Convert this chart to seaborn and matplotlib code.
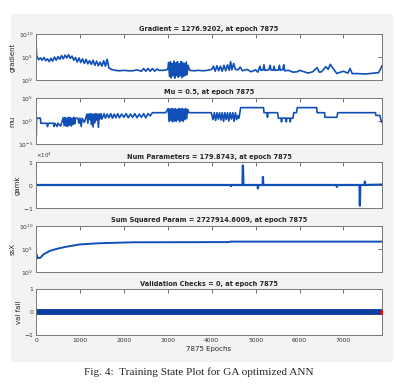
import numpy as np
import matplotlib
matplotlib.use("Agg")
import matplotlib.pyplot as plt
import seaborn as sns
from matplotlib.patches import Rectangle

# valores (exponentes log10 para los paneles logaritmicos)
grad_epochs = [0, 15, 60, 100, 140, 180, 220, 260, 300, 340, 380, 420, 460, 500, 540, 580, 620, 660, 700, 740,
               780, 820, 860, 900, 940, 980, 1020, 1060, 1100, 1140, 1180, 1220, 1260, 1300, 1340, 1380, 1420,
               1460, 1500, 1540, 1580, 1620, 1660, 1720, 1800, 1900, 2000, 2100, 2200, 2300, 2400, 2450, 2500,
               2550, 2600, 2650, 2700, 2750, 2800, 2900, 3000, 3020, 3040, 3060, 3080, 3100, 3120, 3140, 3160,
               3180, 3200, 3220, 3240, 3260, 3280, 3300, 3320, 3340, 3360, 3380, 3400, 3420, 3440, 3460, 3500,
               3600, 3700, 3800, 3900, 4000, 4040, 4080, 4120, 4160, 4200, 4240, 4280, 4320, 4360, 4400, 4430,
               4460, 4500, 4540, 4600, 4650, 4700, 4800, 4900, 5000, 5050, 5100, 5120, 5170, 5190, 5210, 5300,
               5330, 5350, 5400, 5420, 5440, 5520, 5540, 5560, 5620, 5640, 5660, 5750, 5850, 5950, 6000, 6100,
               6200, 6300, 6400, 6450, 6500, 6600, 6650, 6700, 6750, 6850, 6900, 7000, 7100, 7150, 7200, 7300,
               7500, 7600, 7700, 7800, 7850, 7875]
grad_log = [8.0, 5.2, 4.4, 4.8, 4.3, 4.9, 4.2, 4.6, 4.0, 4.7, 4.1, 5.0, 4.3, 5.1, 4.5, 5.3, 4.6, 5.4, 4.8, 5.5,
            4.7, 5.2, 4.3, 4.9, 3.9, 4.8, 3.8, 4.6, 3.6, 4.5, 3.5, 4.2, 3.4, 4.3, 3.2, 4.1, 3.1,
            3.9, 3.0, 4.2, 3.0, 4.5, 2.6, 2.3, 2.1, 2.0, 2.1, 2.0, 2.0, 2.2, 1.9, 2.5, 1.9,
            2.5, 1.9, 2.5, 1.9, 2.4, 2.1, 2.1, 2.3, 3.8, 0.8, 4.0, 0.5, 3.6, 0.9, 4.1, 0.4,
            3.7, 1.0, 4.0, 0.6, 3.5, 0.9, 4.0, 0.5, 3.8, 0.8, 3.6, 1.0, 3.9, 1.2, 3.2, 2.1,
            2.0, 2.1, 2.0, 2.1, 2.3, 3.0, 1.9, 3.1, 2.0, 3.0, 1.9, 3.2, 2.0, 3.3, 2.1, 4.0,
            2.2, 3.6, 2.3, 2.2, 2.8, 2.0, 2.3, 1.8, 2.2, 1.7, 3.0, 2.1, 2.2, 3.3, 2.1, 2.2,
            3.2, 2.2, 2.1, 3.0, 2.1, 2.2, 3.2, 2.1, 2.3, 3.3, 2.0, 2.1, 1.7, 1.8, 2.1, 1.8,
            1.5, 1.8, 2.7, 1.7, 1.8, 2.9, 2.3, 3.4, 2.7, 1.4, 1.6, 1.9, 1.5, 2.5, 1.4, 1.4,
            1.3, 1.4, 1.5, 1.6, 2.5, 3.1]

mu_epochs = [0, 5, 12, 100, 110, 250, 260, 280, 400, 410, 430, 480, 500, 560, 580,
             620, 640, 660, 680, 700, 720, 740, 760, 780, 800, 820, 840, 860, 880, 900,
             950, 980, 1000, 1030, 1050, 1100, 1130,
             1160, 1180, 1200, 1220, 1240, 1260, 1280, 1300, 1320, 1340, 1360, 1380, 1400, 1420, 1440, 1460, 1480, 1500,
             1550, 1580, 1620, 1660, 1700, 1740, 1780, 1820, 1860, 1900, 1950, 2000, 2050, 2100, 2150, 2200, 2250,
             2300, 2350, 2400, 2450, 2500, 2550, 2600, 2650, 2800, 2950,
             3010, 3030, 3050, 3070, 3090, 3110, 3130, 3150, 3170, 3190, 3210, 3230, 3250, 3270, 3290, 3310, 3330,
             3350, 3370, 3390, 3410, 3430, 3450, 3480, 3990,
             4030, 4060, 4090, 4120, 4150, 4180, 4210, 4240, 4270, 4300, 4330, 4360, 4390, 4420, 4450, 4480, 4510,
             4540, 4570, 4600, 4620, 4640, 4660, 5180, 5190, 5260, 5270, 5280, 5500, 5520, 5580, 5590, 5600, 5690,
             5700, 5710, 5780, 5790, 5800, 5850, 5870, 5930, 5950, 6390, 6400, 6570, 6580, 6850, 6870, 7730, 7740,
             7830, 7850, 7875]
mu_log = [1.8, -3.1, 0.6, 0.6, -0.5, -0.5, -1.2, -0.5, -0.5, -1.2, -0.5, -1.2, -0.5, -1.1, -0.5,
          0.7, -1.0, 0.8, -1.1, 0.6, -1.2, 0.8, -0.9, 0.7, -1.1, 0.6, -0.8, 0.8, -0.6, 0.6,
          0.6, -0.5, 0.6, -1.2, 0.6, -0.3, 0.6,
          1.5, -0.5, 1.5, 0.3, 1.6, -0.8, 1.5, -1.3, 1.5, -0.4, 1.6, 0.2, 1.5, -1.4, 1.5, 0.5, 1.6, 0.4,
          1.6, 0.6, 1.5, 0.7, 1.6, 0.6, 1.5, 0.7, 1.6, 0.7, 1.5, 0.8, 1.6, 0.7, 1.5, 0.8, 1.6,
          0.7, 1.5, 0.8, 1.6, 0.7, 1.6, 1.1, 1.8, 1.8, 1.8,
          2.7, -0.1, 2.6, 0.1, 2.7, -0.2, 2.6, 0.0, 2.7, -0.1, 2.5, 0.2, 2.7, -0.2, 2.6, 0.1, 2.7,
          -0.1, 2.6, 0.3, 2.7, 0.5, 2.5, 1.8, 1.8,
          0.3, 1.8, 0.1, 1.8, 0.4, 1.8, 0.2, 1.8, -0.1, 1.8, 0.3, 1.8, 0.0, 1.8, 0.4, 1.8, -0.1,
          1.8, 0.3, 1.2, 0.6, 1.8, 2.9, 2.9, 1.8, 1.8, 0.8, 1.8, 1.8, 0.6, 0.6, -0.2, 0.6, 0.6,
          -0.2, 0.6, 0.6, -0.2, 0.6, 0.6, 1.8, 1.8, 2.9, 2.9, 1.8, 1.8, 0.8, 0.8, 1.8, 1.8, 1.2,
          1.2, 0.3, -0.3]

gamk_epochs = [0, 4430, 4438, 4446, 4700, 4711, 4722, 5045, 5053, 5061, 5160, 5167, 5175,
               6843, 6851, 6859, 7366, 7374, 7382, 7480, 7488, 7496, 7875]
gamk_vals = [0, 0, -500, 0, 0, 8500, 0, 0, -1500, 0, 0, 3500, 0,
             0, -800, 0, 0, -9000, 0, 0, 1500, 0, 180]

ssx_epochs = [0, 40, 100, 166, 319, 500, 698, 1000, 1450, 2200, 4400, 4420, 7875]
ssx_log = [4.1, 3.0, 3.1, 3.8, 4.6, 5.1, 5.5, 6.0, 6.25, 6.45, 6.5, 6.6, 6.6]

val_epochs = [0, 7875]
val_vals = [0, 0]

titles = ["Gradient = 1276.9202, at epoch 7875",
          "Mu = 0.5, at epoch 7875",
          "Num Parameters = 179.8743, at epoch 7875",
          "Sum Squared Param = 2727914.6009, at epoch 7875",
          "Validation Checks = 0, at epoch 7875"]
ylabels = ["gradient", "mu", "gamk", "ssX", "val fail"]

sns.set_style("white")
plt.rcParams['font.family'] = ['Liberation Sans Narrow', 'DejaVu Sans']
plt.rcParams['mathtext.fontset'] = 'custom'
plt.rcParams['mathtext.rm'] = 'Liberation Sans Narrow'
plt.rcParams['mathtext.it'] = 'Liberation Sans Narrow'
plt.rcParams['mathtext.bf'] = 'Liberation Sans Narrow:bold'

blue = '#0f4fb6'
fig = plt.figure(figsize=(3.98, 3.88), dpi=100)
fig.patches.append(Rectangle((0.0276, 0.067), 0.96, 0.897, transform=fig.transFigure,
                             facecolor='#f3f3f3', edgecolor='none', zorder=-10))

bottoms = [0.7938, 0.6289, 0.4639, 0.299, 0.1366]
axes = [fig.add_axes([0.0905, b, 0.869, 0.1186]) for b in bottoms]

series = [(grad_epochs, 10.0 ** np.array(grad_log), 1.2),
          (mu_epochs, 10.0 ** np.array(mu_log), 1.2),
          (gamk_epochs, np.array(gamk_vals, dtype=float), 1.6),
          (ssx_epochs, 10.0 ** np.array(ssx_log), 1.4)]

for i, ax in enumerate(axes[:4]):
    x, y, lw = series[i]
    sns.lineplot(x=x, y=y, ax=ax, color=blue, linewidth=lw, estimator=None)

# validation checks: banda gruesa en cero con el punto rojo al final
sns.lineplot(x=val_epochs, y=val_vals, ax=axes[4], color='#0a3d9e', linewidth=4.2,
             estimator=None, solid_capstyle='round')
axes[4].scatter([7875], [0], color='red', s=6, zorder=5)

for ax in [axes[0], axes[3]]:
    ax.set_yscale('log')
    ax.set_ylim(1, 1e10)
    ax.set_yticks([1, 1e5, 1e10])
axes[1].set_yscale('log')
axes[1].set_ylim(1e-5, 1e5)
axes[1].set_yticks([1e-5, 1, 1e5])
axes[2].set_ylim(-1e4, 1e4)
axes[2].set_yticks([-1e4, 0, 1e4])
axes[2].ticklabel_format(axis='y', style='sci', scilimits=(0, 0), useMathText=True)
axes[2].yaxis.get_offset_text().set_fontsize(4)
axes[4].set_ylim(-1, 1)
axes[4].set_yticks([-1, 0, 1])

for i, ax in enumerate(axes):
    ax.set_facecolor('white')
    ax.set_xlim(0, 7875)
    ax.set_xticks(range(0, 8000, 1000))
    ax.minorticks_off()
    ax.tick_params(direction='in', top=True, right=True, length=3, width=0.5,
                   labelsize=4.3, pad=2, colors='#333333')
    for s in ax.spines.values():
        s.set_color('#777777')
        s.set_linewidth(0.7)
    ax.set_title(titles[i], fontsize=4.8, fontweight='bold', pad=2.5)
    ax.set_ylabel(ylabels[i], fontsize=5, labelpad=2)
    if i < 4:
        ax.set_xticklabels([])
        ax.set_xlabel('')

axes[4].set_xlabel('7875 Epochs', fontsize=5, labelpad=2)

fig.text(0.5, 0.041, 'Fig. 4:  Training State Plot for GA optimized ANN',
         ha='center', va='center', fontsize=8.1, family='Liberation Serif')

fig.savefig('out.png', dpi=100)
